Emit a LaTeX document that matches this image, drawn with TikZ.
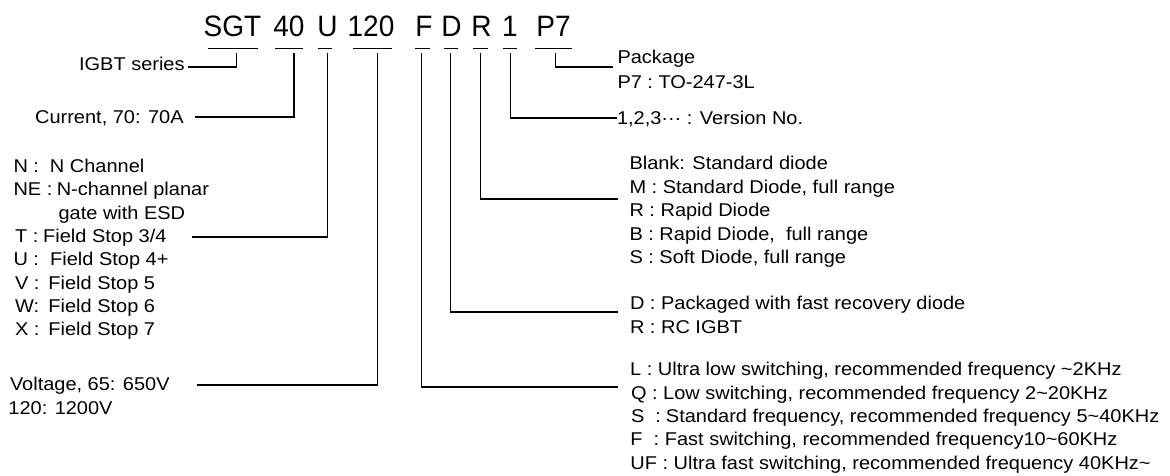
\documentclass[tikz,border=0pt]{standalone}
\usepackage{fontspec}
\setmainfont{Liberation Sans}
\newfontfamily\lblfont[FakeStretch=1.08]{Liberation Sans}
\newfontfamily\ttlfont[FakeStretch=0.95]{Liberation Sans}
\newcommand\kv[3]{\makebox[#1pt][l]{#2}#3}
\begin{document}
\begin{tikzpicture}[x=1pt,y=-1pt,
  lbl/.style={font=\lblfont\fontsize{18.5}{22}\selectfont, anchor=base west, inner sep=0pt, outer sep=0pt},
  lble/.style={lbl, anchor=base east},
  ttl/.style={font=\ttlfont\fontsize{29.5}{33}\selectfont, anchor=base, inner sep=0pt, outer sep=0pt},
  wire/.style={line width=1.4pt},
  uline/.style={line width=1.4pt}]
\useasboundingbox (0,0) rectangle (1170,475);

% ---- title ----
\node[ttl] (sgt)  at (232.5,36) {SGT};
\node[ttl] (n40)  at (289,36)   {40};
\node[ttl] (u)    at (327.5,36) {U};
\node[ttl] (n120) at (371,36)   {120};
\node[ttl] (f)    at (424,36)   {F};
\node[ttl] (d)    at (451.5,36) {D};
\node[ttl] (r)    at (481.5,36) {R};
\node[ttl] (one)  at (510,36)   {1};
\node[ttl] (p7)   at (553.5,36) {P7};

% ---- underlines ----
\draw[uline] (208,48.3) -- (258,48.3);
\draw[uline] (275,48.3) -- (303,48.3);
\draw[uline] (318,48.3) -- (332,48.3);
\draw[uline] (353,48.3) -- (392,48.3);
\draw[uline] (415,48.3) -- (430,48.3);
\draw[uline] (444,48.3) -- (458,48.3);
\draw[uline] (473,48.3) -- (488,48.3);
\draw[uline] (503,48.3) -- (517,48.3);
\draw[uline] (535,48.3) -- (572,48.3);

% ---- tick coordinates ----
\coordinate (tS)  at (236.7,52.5);
\coordinate (t40) at (294,52.5);
\coordinate (tU)  at (327.7,52.5);
\coordinate (t120) at (377.5,52.5);
\coordinate (tF)  at (421.7,52.5);
\coordinate (tD)  at (450.7,52.5);
\coordinate (tR)  at (480.7,52.5);
\coordinate (t1)  at (510.7,52.5);
\coordinate (tP)  at (555.5,52.5);

% ---- connector ends ----
\coordinate (eS)   at (188,67);
\coordinate (e40)  at (195,117);
\coordinate (eU)   at (192,237);
\coordinate (e120) at (197,385);
\coordinate (eF)   at (618,387);
\coordinate (eD)   at (618,312);
\coordinate (eR)   at (618,199);
\coordinate (e1)   at (617,118);
\coordinate (eP)   at (613,67);

% ---- left labels ----
\node[lble] (igbt) at (184.6,70.5) {IGBT series};
\node[lble] (cur)  at (183.6,123.5) {Current, 70: 70A};

\node[lbl] (lN)  at (13.5,172.6) {\kv{36.5}{N :}{N Channel}};
\node[lbl] (lNE) at (13.5,195.9) {\kv{43.3}{NE :}{N-channel planar}};
\node[lbl] (lG)  at (58.6,219.2) {gate with ESD};
\node[lbl] (lT)  at (15.2,242.5) {\kv{28}{T :}{Field Stop 3/4}};
\node[lbl] (lU)  at (13.5,265.8) {\kv{36.7}{U :}{Field Stop 4+}};
\node[lbl] (lV)  at (15,289.1)   {\kv{33.5}{V :}{Field Stop 5}};
\node[lbl] (lW)  at (15,312.4)   {\kv{33.5}{W:}{Field Stop 6}};
\node[lbl] (lX)  at (15,335.7)   {\kv{33.5}{X :}{Field Stop 7}};

\node[lbl] (volt) at (10,390)  {Voltage, 65: 650V};
\node[lbl] (v120) at (8.5,414) {120: 1200V};

% ---- right labels ----
\node[lbl] (pkg)  at (617.5,63.5) {Package};
\node[lbl] (pkg7) at (617.5,88.5) {\kv{41}{P7 :}{TO-247-3L}};
\node[lbl] (ver)  at (617,124.6)  {1,2,3···\ : Version No.};

\node[lbl] (dBl) at (629.5,169.6) {Blank: Standard diode};
\node[lbl] (dM)  at (629.5,193.1) {M : Standard Diode, full range};
\node[lbl] (dR)  at (629.5,216.6) {R : Rapid Diode};
\node[lbl] (dB)  at (629.5,240.1) {B : Rapid Diode,\ \ full range};
\node[lbl] (dS)  at (629.5,263.6) {S : Soft Diode, full range};

\node[lbl] (pD)  at (630,309.6) {D : Packaged with fast recovery diode};
\node[lbl] (pR)  at (630,333)   {R : RC IGBT};

\node[lbl] (fL)  at (630.2,375.6) {L : Ultra low switching, recommended frequency \textasciitilde2KHz};
\node[lbl] (fQ)  at (631,399)     {Q : Low switching, recommended frequency 2\textasciitilde20KHz};
\node[lbl] (fS)  at (631,422.4)   {\kv{35}{S\ \ :}{Standard frequency, recommended frequency 5\textasciitilde40KHz}};
\node[lbl] (fF)  at (630.4,445.8) {\kv{34.5}{F\ \ :}{Fast switching, recommended frequency10\textasciitilde60KHz}};
\node[lbl] (fUF) at (630.4,469.2) {UF : Ultra fast switching, recommended frequency 40KHz\textasciitilde};

% ---- connectors ----
\draw[wire] (tS)   |- (eS);
\draw[wire] (t40)  |- (e40);
\draw[wire] (tU)   |- (eU);
\draw[wire] (t120) |- (e120);
\draw[wire] (tF)   |- (eF);
\draw[wire] (tD)   |- (eD);
\draw[wire] (tR)   |- (eR);
\draw[wire] (t1)   |- (e1);
\draw[wire] (tP)   |- (eP);
\end{tikzpicture}
\end{document}
